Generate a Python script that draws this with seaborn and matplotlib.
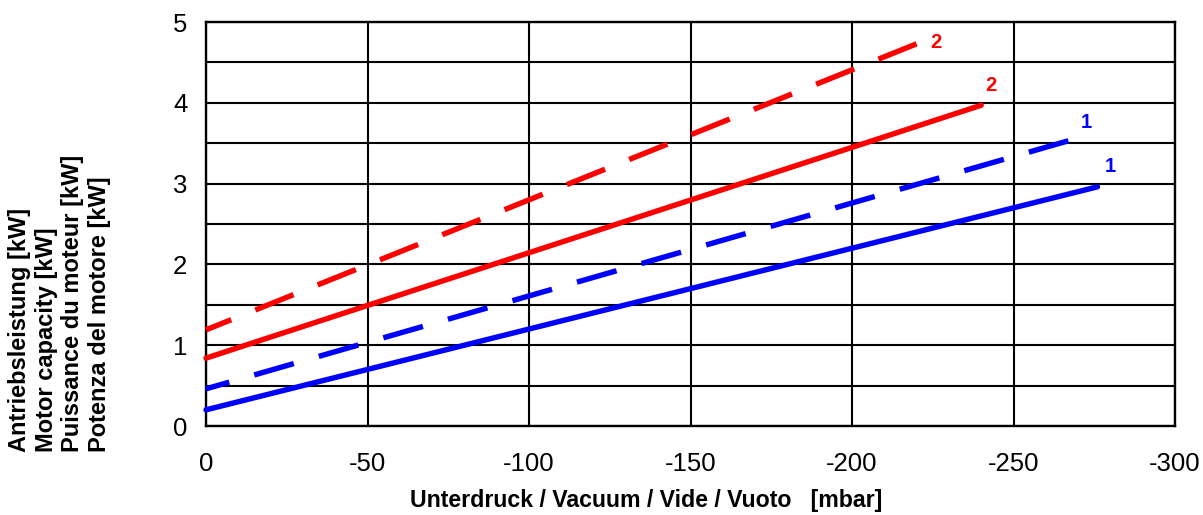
import matplotlib
matplotlib.use("Agg")
import matplotlib.pyplot as plt
import seaborn as sns
import numpy as np

# ---- data ----
vacuum_2_dashed = [0, -220]
power_2_dashed = [1.19, 4.73]
vacuum_2_solid = [0, -240]
power_2_solid = [0.84, 3.97]
vacuum_1_dashed = [0, -267]
power_1_dashed = [0.46, 3.53]
vacuum_1_solid = [0, -276]
power_1_solid = [0.20, 2.96]

curve_labels = ["2", "2", "1", "1"]
label_x = [-226, -243, -272.5, -280]
label_y = [4.75, 4.22, 3.76, 3.21]

x_ticks = [0, -50, -100, -150, -200, -250, -300]
y_ticks = [0, 1, 2, 3, 4, 5]

sns.set_style("white")
plt.rcParams['font.family'] = ['Liberation Sans', 'DejaVu Sans']
plt.rcParams['axes.unicode_minus'] = False
plt.rcParams['text.color'] = 'black'

fig = plt.figure(figsize=(12.03, 5.15), dpi=100)
ax = fig.add_axes([206/1203, 1-426/515, (1175-206)/1203, (426-22)/515])

RED = "#FF0000"
BLUE = "#0000FF"
LW = 3.9
dash = (0, (7.6, 4.8))

sns.lineplot(x=vacuum_2_dashed, y=power_2_dashed, color=RED, linewidth=LW,
             linestyle=dash, ax=ax, clip_on=False, zorder=3)
sns.lineplot(x=vacuum_2_solid, y=power_2_solid, color=RED, linewidth=LW,
             ax=ax, clip_on=False, zorder=3)
sns.lineplot(x=vacuum_1_dashed, y=power_1_dashed, color=BLUE, linewidth=LW,
             linestyle=dash, ax=ax, clip_on=False, zorder=3)
sns.lineplot(x=vacuum_1_solid, y=power_1_solid, color=BLUE, linewidth=LW,
             ax=ax, clip_on=False, zorder=3)

label_colors = [RED, RED, BLUE, BLUE]
for t, lx, ly, c in zip(curve_labels, label_x, label_y, label_colors):
    ax.text(lx, ly, t, color=c, fontsize=14.5, fontweight='bold',
            ha='center', va='center')

ax.set_xlim(0, -300)
ax.set_ylim(0, 5)
ax.set_xticks(x_ticks)
ax.set_xticklabels([str(v) for v in x_ticks])
ax.set_yticks(y_ticks)
ax.set_yticklabels([str(v) for v in y_ticks])
ax.set_yticks(np.arange(0.5, 5, 1.0), minor=True)

ax.grid(True, which='major', color='black', linewidth=1.5)
ax.grid(True, which='minor', axis='y', color='black', linewidth=1.5)
ax.set_axisbelow(True)
for s in ax.spines.values():
    s.set_visible(True)
    s.set_color('black')
    s.set_linewidth(1.7)

ax.tick_params(axis='both', which='major', direction='out', length=6.5,
               width=1.5, color='black', labelsize=18.5, labelcolor='black')
ax.tick_params(axis='x', pad=12)
ax.tick_params(axis='y', pad=7)
ax.tick_params(axis='y', which='minor', length=0)

ax.set_xlabel("")
ax.set_ylabel("")

fig.text(646/1203, 1-501/515, "Unterdruck / Vacuum / Vide / Vuoto   [mbar]",
         fontsize=16.7, fontweight='bold', ha='center', va='center')
fig.text(59.5/1203, 1-452/515,
         "Antriebsleistung [kW]\nMotor capacity [kW]\nPuissance du moteur [kW]\nPotenza del motore [kW]",
         fontsize=17, fontweight='bold', rotation=90, ha='center', va='bottom',
         multialignment='left', linespacing=1.22)

fig.savefig("out.png", dpi=100)
